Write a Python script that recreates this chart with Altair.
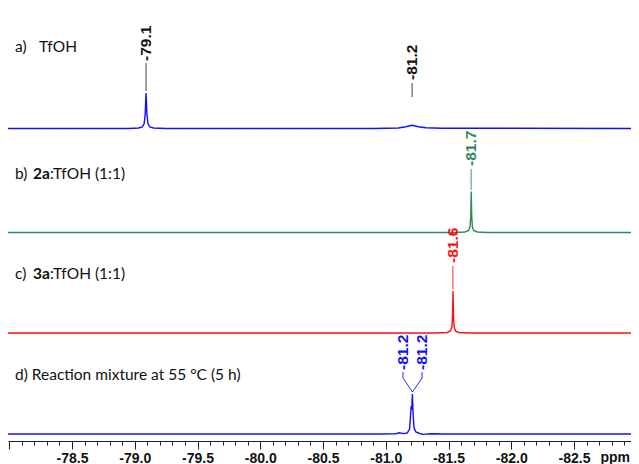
import altair as alt
import pandas as pd

# ---------------- data ----------------
# a) TfOH
a_ppm = [-77.99, -78.95, -79.03, -79.06, -79.075, -79.083, -79.09, -79.097, -79.105,
         -79.12, -79.15, -79.25, -80.90, -81.10, -81.16, -81.21, -81.26, -81.32, -81.45, -83.0]
a_int = [0, 0, 0.5, 1.5, 5, 14, 35.5, 14, 5, 1.5, 0.5, 0, 0, 0.5, 1.8, 3.2, 1.8, 0.8, 0.3, 0]

# b) 2a:TfOH (1:1)
b_ppm = [-77.99, -81.55, -81.63, -81.66, -81.672, -81.677, -81.681, -81.685, -81.69,
         -81.70, -81.73, -81.80, -83.0]
b_int = [0, 0, 0.5, 2, 6, 16, 41, 16, 6, 2, 0.5, 0, 0]

# c) 3a:TfOH (1:1)
c_ppm = [-77.99, -81.40, -81.49, -81.515, -81.527, -81.532, -81.536, -81.540, -81.545,
         -81.555, -81.58, -81.66, -83.0]
c_int = [0, 0, 0.5, 2, 6, 16, 42, 16, 6, 2, 0.5, 0, 0]

# d) Reaction mixture at 55 °C (5 h)
d_ppm = [-77.99, -80.95, -81.08, -81.11, -81.14, -81.17, -81.19, -81.198, -81.203,
         -81.207, -81.212, -81.218, -81.225, -81.24, -81.27, -81.30, -81.36, -81.45, -83.0]
d_int = [0, 0, 0.3, 1.2, 0.4, 1, 5, 20, 28, 24, 40, 20, 6, 2, 0.5, -0.4, 0.3, 0, 0]

trace_names = ["a", "b", "c", "d"]
trace_colors = ["#1010ff", "#2e8b57", "#ff1010", "#1010ff"]
offsets = [312.5, 208.5, 108.0, 7.0]   # vertical stacking of the traces

# peak annotations: text, ppm, colour, bottom of label
ann_text = ["-79.1", "-81.2", "-81.7", "-81.6", "-81.2", "-81.2"]
ann_ppm = [-79.09, -81.21, -81.68, -81.535, -81.137, -81.289]
ann_color = ["#111111", "#111111", "#2e8b57", "#ff1010", "#1010ff", "#1010ff"]
ann_ybot = [380, 361, 275, 178, 71, 71]

# connectors (ppm, y1, ppm2, y2)
con_x1 = [-79.09, -81.21, -81.68, -81.535, -81.137, -81.289, -81.137, -81.289]
con_y1 = [378, 358, 272, 175, 69, 69, 63, 63]
con_x2 = [-79.09, -81.21, -81.68, -81.535, -81.137, -81.289, -81.213, -81.213]
con_y2 = [350, 344, 251, 152, 63, 63, 49, 49]
con_c = ["#333333", "#333333", "#2e8b57", "#ff1010", "#1010ff", "#1010ff", "#1010ff", "#1010ff"]

tick_values = [round(-78.0 - 0.1 * i, 1) for i in range(50)]

# ---------------- build tables ----------------
rows = []
for name, px, iy, off in zip(trace_names, [a_ppm, b_ppm, c_ppm, d_ppm],
                             [a_int, b_int, c_int, d_int], offsets):
    for p, v in zip(px, iy):
        rows.append({"trace": name, "ppm": p, "y": off + v})
spec = pd.DataFrame(rows)

ann = pd.DataFrame({"text": ann_text, "ppm": ann_ppm, "y": ann_ybot, "color": ann_color})
con = pd.DataFrame({"x1": con_x1, "y1": con_y1, "x2": con_x2, "y2": con_y2, "color": con_c})

W, H = 623, 433
xscale = alt.Scale(domain=[-77.99, -82.954], nice=False, zero=False)
yscale = alt.Scale(domain=[0, H], nice=False, zero=False)

is_major = "abs(datum.value*2 - round(datum.value*2)) < 0.01"
xaxis = alt.Axis(
    values=tick_values,
    labelExpr="(" + is_major + " && datum.value <= -78.4 && datum.value >= -82.6) ? "
              "replace(format(datum.value, '.1f'), '\u2212', '-') : ''",
    tickSize={"condition": {"test": is_major, "value": 8}, "value": 4},
    tickColor="#222222", domainColor="#222222", tickWidth=1, domainWidth=1,
    labelFont="Liberation Sans", labelFontWeight="bold", labelFontSize=14,
    labelColor="#111111", labelPadding=2, labelFlush=False, labelOverlap=False,
    grid=False, title=None,
)

lines = alt.Chart(spec).mark_line(strokeWidth=1.4, clip=True).encode(
    x=alt.X("ppm:Q", scale=xscale, axis=xaxis),
    y=alt.Y("y:Q", scale=yscale, axis=None),
    color=alt.Color("trace:N", scale=alt.Scale(domain=trace_names, range=trace_colors), legend=None),
    detail="trace:N",
)

rules = alt.Chart(con).mark_rule(strokeWidth=0.9).encode(
    x=alt.X("x1:Q", scale=xscale, axis=xaxis), x2="x2:Q",
    y=alt.Y("y1:Q", scale=yscale, axis=None), y2="y2:Q",
    color=alt.Color("color:N", scale=None),
)

labels = alt.Chart(ann).mark_text(
    angle=270, align="left", baseline="middle", font="Liberation Sans",
    fontWeight="bold", fontSize=15.5,
).encode(
    x=alt.X("ppm:Q", scale=xscale, axis=xaxis),
    y=alt.Y("y:Q", scale=yscale, axis=None),
    text="text:N",
    color=alt.Color("color:N", scale=None),
)

# left-hand sample captions (pieces so that compound numbers can be bold)
cap_text = ["a)", "TfOH", "b)", "2a", ":TfOH (1:1)", "c)", "3a", ":TfOH (1:1)",
            "d) Reaction mixture at 55 \u00b0C (5 h)"]
cap_x = [7, 31, 7, 25, 42, 7, 25, 42, 7]
cap_y = [39, 39, 166, 166, 166, 266, 266, 266, 367]
cap_w = ["normal", "normal", "normal", "bold", "normal", "normal", "bold", "normal", "normal"]

cap_layers = []
for t, x, y, w in zip(cap_text, cap_x, cap_y, cap_w):
    cap_layers.append(
        alt.Chart(pd.DataFrame({"t": [t]})).mark_text(
            align="left", baseline="middle", font="Lato", fontSize=15.5,
            fontWeight=w, color="#111111",
        ).encode(x=alt.value(x), y=alt.value(y), text="t:N")
    )

ppm_label = alt.Chart(pd.DataFrame({"t": ["ppm"]})).mark_text(
    align="right", baseline="middle", font="Liberation Sans", fontWeight="bold",
    fontSize=14, color="#111111",
).encode(x=alt.value(W - 1), y=alt.value(H + 17), text="t:N")

chart = alt.layer(lines, rules, labels, *cap_layers, ppm_label).properties(
    width=W, height=H, padding={"left": 0, "top": 0, "right": 0, "bottom": 0},
    background="white",
).configure_view(stroke=None)

chart.save("out.html", embed_options={"renderer": "svg", "actions": False})
